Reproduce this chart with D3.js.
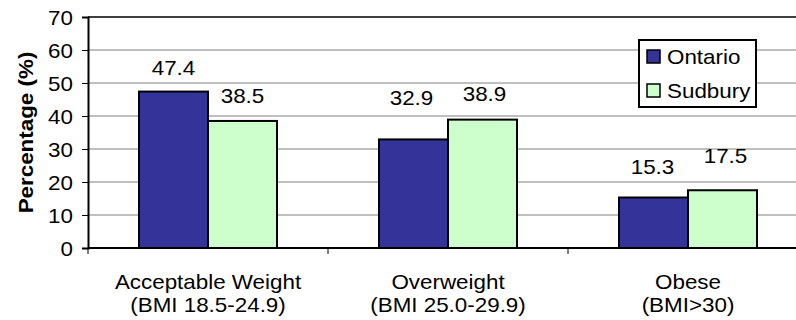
<!DOCTYPE html>
<html>
<head>
<meta charset="utf-8">
<script src="https://cdn.jsdelivr.net/npm/d3@7/dist/d3.min.js"></script>
<style>
  html, body { margin: 0; padding: 0; background: #fff; }
  svg { display: block; font-family: "Liberation Sans", Arial, sans-serif; }
</style>
</head>
<body>
<svg id="chart" width="796" height="320"></svg>
<script>
// BMI categories (two-line labels)
const categories = ["Acceptable Weight", "Overweight", "Obese"];
const categorySubLabels = ["(BMI 18.5-24.9)", "(BMI 25.0-29.9)", "(BMI>30)"];
const seriesNames = ["Ontario", "Sudbury"];
const ontarioValues = [47.4, 32.9, 15.3];
const sudburyValues = [38.5, 38.9, 17.5];
const yTicks = [0, 10, 20, 30, 40, 50, 60, 70];

const colors = { Ontario: "#333399", Sudbury: "#CCFFCC" };

// Hand-placed value labels: baseline lift above bar top (px) and x nudge (px)
const labelLift = { Ontario: [16.6, 34.4, 23.5], Sudbury: [17.7, 18.9, 27] };
const labelNudge = { Ontario: [0, -2, -1], Sudbury: [0, 2, 3] };

const svg = d3.select("#chart");
const margin = { left: 88, top: 17 };
const plotW = 720, plotH = 231;

const g = svg.append("g").attr("transform", `translate(${margin.left},${margin.top})`);

const y = d3.scaleLinear().domain([0, 70]).range([plotH, 0]);
const x0 = d3.scaleBand().domain(categories).range([0, plotW]).padding(0);
const x1 = d3.scaleBand().domain(seriesNames)
  .range([x0.bandwidth() * 0.2125, x0.bandwidth() * 0.7875]).padding(0);

const FONT = 20;
const STRETCH = 1.12;

// Horizontal gridlines
g.append("g").selectAll("line")
  .data(yTicks.filter(t => t > 0 && t < 70))
  .join("line")
  .attr("x1", 0).attr("x2", plotW)
  .attr("y1", d => y(d)).attr("y2", d => y(d))
  .attr("stroke", "#808080").attr("stroke-width", 1);

// Plot border top
g.append("line")
  .attr("x1", 0).attr("x2", plotW)
  .attr("y1", y(70)).attr("y2", y(70))
  .attr("stroke", "#000").attr("stroke-width", 1.5);

// Bars
const rows = categories.map((c, i) => ({
  cat: c, i,
  vals: [
    { s: "Ontario", v: ontarioValues[i] },
    { s: "Sudbury", v: sudburyValues[i] }
  ]
}));

const groups = g.selectAll("g.cat").data(rows).join("g")
  .attr("class", "cat")
  .attr("transform", d => `translate(${x0(d.cat)},0)`);

groups.selectAll("rect").data(d => d.vals).join("rect")
  .attr("x", d => x1(d.s))
  .attr("y", d => y(d.v))
  .attr("width", x1.bandwidth())
  .attr("height", d => y(0) - y(d.v))
  .attr("fill", d => colors[d.s])
  .attr("stroke", "#000").attr("stroke-width", 2);

function stretchedText(sel, tx, ty) {
  return sel.attr("transform", `translate(${tx},${ty}) scale(${STRETCH},1)`);
}

// Value labels
groups.each(function (row) {
  const grp = d3.select(this);
  row.vals.forEach(d => {
    const cx = x1(d.s) + x1.bandwidth() / 2 + labelNudge[d.s][row.i];
    const by = y(d.v) - labelLift[d.s][row.i];
    stretchedText(grp.append("text"), cx, by)
      .attr("text-anchor", "middle")
      .attr("font-size", FONT)
      .attr("fill", "#000")
      .text(d3.format(".1f")(d.v));
  });
});

// Y axis
const yAxis = g.append("g")
  .call(d3.axisLeft(y).tickValues(yTicks).tickSize(6).tickPadding(5));
yAxis.select(".domain").attr("stroke", "#000").attr("stroke-width", 2);
yAxis.selectAll(".tick line").attr("stroke", "#000").attr("stroke-width", 1);
yAxis.selectAll(".tick text")
  .attr("font-size", FONT).attr("font-family", null).attr("fill", "#000")
  .attr("dy", "0.36em")
  .attr("transform", `translate(-15,0) scale(${STRETCH},1)`)
  .attr("x", 0);

// X axis (category ticks at band edges)
const xAxisG = g.append("g").attr("transform", `translate(0,${plotH})`);
xAxisG.append("line")
  .attr("x1", 0).attr("x2", plotW).attr("y1", 0).attr("y2", 0)
  .attr("stroke", "#000").attr("stroke-width", 2);
xAxisG.selectAll("line.tk")
  .data(categories.map(c => x0(c)))
  .join("line").attr("class", "tk")
  .attr("x1", d => d).attr("x2", d => d)
  .attr("y1", 0).attr("y2", 6)
  .attr("stroke", "#000").attr("stroke-width", 1);

categories.forEach((c, i) => {
  const cx = x0(c) + x0.bandwidth() / 2;
  stretchedText(xAxisG.append("text"), cx, 40.5)
    .attr("text-anchor", "middle").attr("font-size", FONT).attr("fill", "#000")
    .text(c);
  stretchedText(xAxisG.append("text"), cx, 63.5)
    .attr("text-anchor", "middle").attr("font-size", FONT).attr("fill", "#000")
    .text(categorySubLabels[i]);
});

// Y axis title
svg.append("text")
  .attr("transform", `translate(32.5,${margin.top + plotH / 2}) rotate(-90) scale(${STRETCH},1)`)
  .attr("text-anchor", "middle")
  .attr("font-size", FONT).attr("font-weight", "bold").attr("fill", "#000")
  .text("Percentage (%)");

// Legend
const legend = svg.append("g").attr("transform", "translate(639,40)");
legend.append("rect")
  .attr("width", 117).attr("height", 67)
  .attr("fill", "#fff").attr("stroke", "#000").attr("stroke-width", 2);
seriesNames.forEach((s, i) => {
  const cy = 17 + i * 34;
  legend.append("rect")
    .attr("x", 8).attr("y", cy - 7).attr("width", 13).attr("height", 13)
    .attr("fill", colors[s]).attr("stroke", "#000").attr("stroke-width", 1.5);
  stretchedText(legend.append("text"), 28, cy + 7)
    .attr("font-size", FONT).attr("fill", "#000")
    .text(s);
});
</script>
</body>
</html>
